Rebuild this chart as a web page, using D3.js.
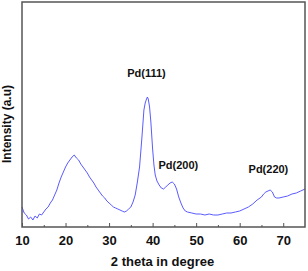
<!DOCTYPE html>
<html>
<head>
<meta charset="utf-8">
<script src="https://cdn.jsdelivr.net/npm/d3@7"></script>
<style>
  body { margin: 0; background: #fff; }
  svg { font-family: "Liberation Sans", Arial, sans-serif; display: block; }
</style>
</head>
<body>
<div id="chart"></div>
<script>
// XRD pattern, values (intensity in arbitrary units)
const twoTheta = [10, 10.5, 11, 11.5, 12, 12.5, 13, 13.5, 14, 14.5, 15, 15.5, 16, 16.5, 17, 17.5, 18, 18.5, 19, 19.5,
  20, 20.5, 21, 21.5, 22, 22.5, 23, 23.5, 24, 24.5, 25, 25.5, 26, 26.5, 27, 27.5, 28, 28.5, 29, 29.5,
  30, 30.5, 31, 31.5, 32, 32.5, 33, 33.5, 34, 34.5, 35, 35.5, 36, 36.5, 37, 37.5, 38, 38.3, 38.6, 38.8,
  39, 39.3, 39.6, 40, 40.3, 40.6, 41, 41.5, 42, 42.5, 43, 43.5, 44, 44.5, 45, 45.5, 46, 46.5, 47, 47.5,
  48, 49, 50, 51, 52, 53, 54, 55, 56, 57, 58, 59, 60, 61, 62, 63, 64, 65, 65.5, 66, 66.5, 67, 67.5, 68,
  68.5, 69, 70, 71, 72, 73, 74, 75];
const intensity = [20, 14, 12, 8, 10, 7, 11, 9, 13, 12, 15, 18, 20, 24, 27, 32, 37, 44, 50, 55,
  60, 64, 67, 70, 72, 69, 67, 63, 60, 57, 54, 50, 47, 44, 40, 37, 34, 31, 29, 26,
  24, 22, 20, 19, 18, 17, 16, 15, 16, 18, 20, 25, 32, 45, 60, 87, 117, 124, 128, 130,
  128, 120, 105, 78, 62, 52, 46, 42, 39, 38, 40, 42, 44, 45, 43, 38, 30, 24, 19, 16,
  15, 14, 13, 13, 12, 13, 12, 12, 13, 14, 14, 15, 16, 18, 20, 23, 27, 30, 33, 35, 36, 37, 35, 30,
  29, 29, 30, 31, 33, 34, 36, 38];

const xTicks = [10, 20, 30, 40, 50, 60, 70];
const xMinorTicks = [15, 25, 35, 45, 55, 65];
const peakLabels = ["Pd(111)", "Pd(200)", "Pd(220)"];
const peakPos = [38.6, 45.9, 66.6];
const peakHeight = [150, 58, 54];

const width = 308, height = 271;
const margin = { top: 2, right: 3, bottom: 44, left: 22 };
const innerW = width - margin.left - margin.right;
const innerH = height - margin.top - margin.bottom;

const data = twoTheta.map((t, i) => ({ t, v: intensity[i] }));

const svg = d3.select("#chart").append("svg")
  .attr("width", width)
  .attr("height", height);

const g = svg.append("g").attr("transform", `translate(${margin.left},${margin.top})`);

const x = d3.scaleLinear().domain([10, 75]).range([0, innerW]);
const y = d3.scaleLinear().domain([0, innerH]).range([innerH, 0]);

// data line
g.append("path")
  .datum(data)
  .attr("fill", "none")
  .attr("stroke", "#5b5bff")
  .attr("stroke-width", 1)
  .attr("d", d3.line().x(d => x(d.t)).y(d => y(d.v)));

// frame
g.append("rect")
  .attr("width", innerW).attr("height", innerH)
  .attr("fill", "none").attr("stroke", "#555").attr("stroke-width", 1.5);

// x axis, inward ticks
const xAxisG = g.append("g").attr("transform", `translate(0,${innerH})`);
xAxisG.call(d3.axisBottom(x).tickValues(xTicks).tickSizeInner(-4).tickSizeOuter(0).tickPadding(9))
  .call(a => a.select(".domain").remove());
xAxisG.selectAll("line").attr("stroke", "#555");
xAxisG.selectAll("text")
  .attr("font-size", 13).attr("font-weight", "bold").attr("fill", "#111")
  .attr("font-family", "Liberation Sans, Arial, sans-serif");

g.append("g").attr("transform", `translate(0,${innerH})`)
  .call(d3.axisBottom(x).tickValues(xMinorTicks).tickSizeInner(-2).tickSizeOuter(0).tickFormat(""))
  .call(a => a.select(".domain").remove())
  .selectAll("line").attr("stroke", "#555");

// axis titles
svg.append("text")
  .attr("x", margin.left + innerW / 2 - 1).attr("y", 266)
  .attr("text-anchor", "middle")
  .attr("font-size", 13).attr("font-weight", "bold").attr("fill", "#111")
  .text("2 theta in degree");

svg.append("text")
  .attr("transform", "translate(11,124) rotate(-90)")
  .attr("text-anchor", "middle")
  .attr("font-size", 12).attr("font-weight", "bold").attr("fill", "#111")
  .text("Intensity (a.u)");

// peak labels
g.selectAll(".peak").data(peakLabels).join("text")
  .attr("class", "peak")
  .attr("x", (d, i) => x(peakPos[i]))
  .attr("y", (d, i) => y(peakHeight[i]))
  .attr("text-anchor", "middle")
  .attr("font-size", 11).attr("font-weight", "bold").attr("fill", "#111")
  .text(d => d);
</script>
</body>
</html>
